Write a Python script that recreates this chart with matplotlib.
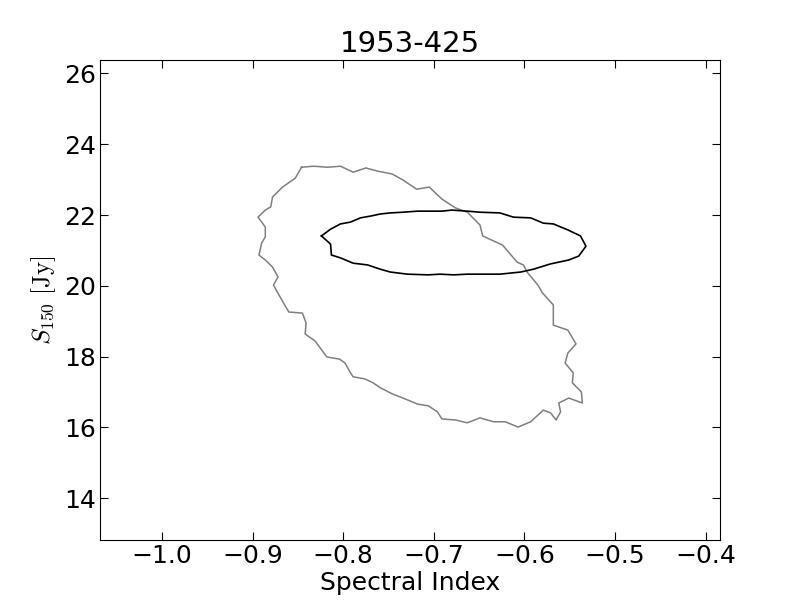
import matplotlib
matplotlib.use('Agg')
import matplotlib.pyplot as plt

# contour outlines (spectral index, S150 in Jy)
outer_alpha = [-0.846, -0.833, -0.817, -0.803, -0.789, -0.775, -0.762, -0.746, -0.734, -0.719,
               -0.705, -0.691, -0.676, -0.663, -0.649, -0.646, -0.624, -0.608, -0.601, -0.597,
               -0.585, -0.580, -0.568, -0.568, -0.552, -0.543, -0.552, -0.555, -0.546, -0.547,
               -0.537, -0.536, -0.551, -0.562, -0.560, -0.565, -0.571, -0.579, -0.593, -0.607,
               -0.621, -0.634, -0.649, -0.663, -0.676, -0.691, -0.696, -0.706, -0.718, -0.734,
               -0.746, -0.759, -0.767, -0.776, -0.789, -0.792, -0.798, -0.804, -0.818, -0.831,
               -0.842, -0.841, -0.845, -0.860, -0.866, -0.877, -0.872, -0.878, -0.886, -0.893,
               -0.890, -0.886, -0.886, -0.894, -0.886, -0.880, -0.878, -0.867, -0.853, -0.846]
outer_flux = [23.35, 23.38, 23.35, 23.38, 23.21, 23.33, 23.24, 23.16, 22.99, 22.73,
              22.79, 22.45, 22.20, 22.08, 21.72, 21.41, 21.15, 20.67, 20.59, 20.39,
              20.02, 19.80, 19.46, 18.89, 18.75, 18.36, 18.10, 17.82, 17.54, 17.26,
              17.00, 16.69, 16.83, 16.69, 16.44, 16.21, 16.41, 16.49, 16.16, 16.01,
              16.16, 16.16, 16.27, 16.13, 16.21, 16.24, 16.44, 16.61, 16.66, 16.83,
              16.95, 17.12, 17.26, 17.37, 17.43, 17.54, 17.82, 17.93, 17.99, 18.44,
              18.64, 18.95, 19.23, 19.26, 19.52, 20.02, 20.25, 20.53, 20.73, 20.87,
              21.21, 21.38, 21.66, 21.94, 22.14, 22.23, 22.51, 22.79, 23.04, 23.35]

inner_alpha = [-0.824, -0.814, -0.803, -0.792, -0.781, -0.770, -0.759, -0.748, -0.734, -0.718,
               -0.704, -0.691, -0.680, -0.663, -0.649, -0.627, -0.612, -0.593, -0.579, -0.568,
               -0.552, -0.538, -0.532, -0.540, -0.551, -0.571, -0.590, -0.604, -0.627, -0.649,
               -0.663, -0.678, -0.693, -0.706, -0.729, -0.748, -0.759, -0.773, -0.789, -0.803,
               -0.813, -0.814, -0.824]
inner_flux = [21.41, 21.60, 21.75, 21.80, 21.92, 21.97, 22.03, 22.06, 22.08, 22.11,
              22.11, 22.11, 22.14, 22.11, 22.08, 22.06, 21.94, 21.92, 21.77, 21.75,
              21.58, 21.41, 21.12, 20.84, 20.73, 20.62, 20.47, 20.39, 20.33, 20.33,
              20.33, 20.31, 20.33, 20.31, 20.33, 20.39, 20.47, 20.59, 20.64, 20.79,
              20.87, 21.18, 21.41]

x_ticks = [-1.0, -0.9, -0.8, -0.7, -0.6, -0.5, -0.4]
y_ticks = [14, 16, 18, 20, 22, 24, 26]

plt.rcParams['mathtext.fontset'] = 'cm'

fig = plt.figure(figsize=(8, 6), dpi=100)
fig.subplots_adjust(left=0.125, right=0.9, bottom=0.1, top=0.9)
ax = fig.add_subplot(111)

ax.plot(outer_alpha, outer_flux, color='#808080', lw=1.1)
ax.plot(inner_alpha, inner_flux, color='black', lw=1.2)

ax.set_xlim(-1.0685, -0.384)
ax.set_ylim(12.82, 26.38)
ax.set_xticks(x_ticks)
ax.set_yticks(y_ticks)
ax.tick_params(direction='in', top=True, right=True, length=6, labelsize=18, pad=3)

ax.set_title('1953-425', fontsize=21)
ax.set_xlabel('Spectral Index', fontsize=18, labelpad=2)
ax.set_ylabel(r'$S_{150}\ \mathrm{[Jy]}$', fontsize=18)

fig.savefig('out.png', dpi=100)
